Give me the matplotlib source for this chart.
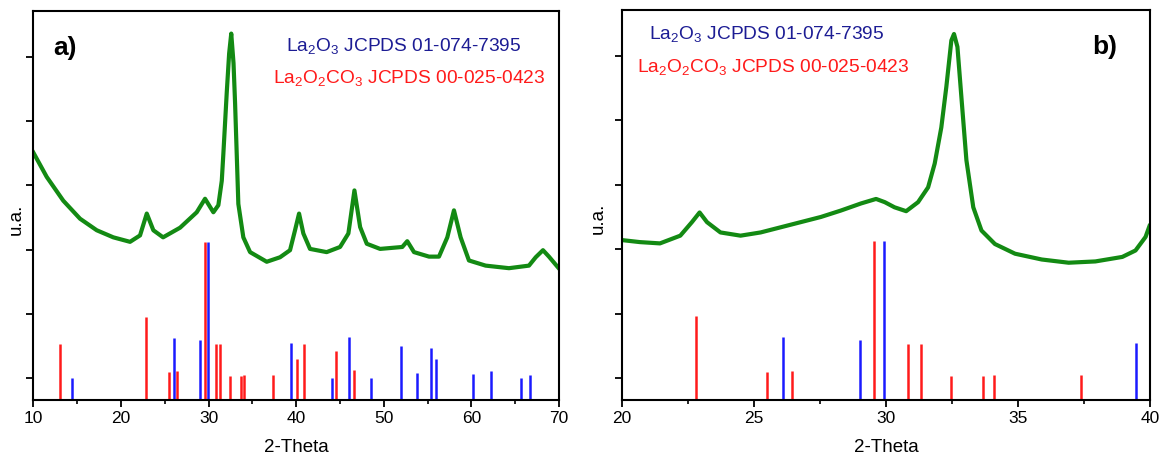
import matplotlib.pyplot as plt
from matplotlib.ticker import MultipleLocator, NullFormatter

plt.rcParams["font.family"] = ["Liberation Sans", "DejaVu Sans"]
plt.rcParams["mathtext.fontset"] = "custom"
plt.rcParams["mathtext.rm"] = "Liberation Sans"
plt.rcParams["mathtext.it"] = "Liberation Sans"

# reference sticks (2-theta, relative height)
la2o3_pos = [14.39, 26.10, 29.02, 29.93, 39.45, 44.13, 46.05, 48.52, 51.98,
             53.78, 55.35, 55.94, 60.14, 62.22, 65.71, 66.69]
la2o3_h = [0.005, 0.63, 0.59, 2.12, 0.545, 0.005, 0.637, 0.005, 0.497,
           0.073, 0.466, 0.30, 0.062, 0.109, 0.005, 0.052]
carb_pos = [13.05, 22.82, 25.49, 26.42, 29.56, 30.82, 31.33, 32.44, 33.66,
            34.09, 37.37, 40.09, 40.95, 44.52, 46.56]
carb_h = [0.534, 0.958, 0.095, 0.114, 2.12, 0.535, 0.535, 0.028, 0.028,
          0.052, 0.052, 0.30, 0.534, 0.425, 0.13]

# measured pattern, panel a (10-70)
a_x = [10.0, 11.53, 13.42, 15.33, 17.24, 19.13, 21.04, 22.18, 22.95, 23.70,
       24.81, 26.75, 28.65, 29.60, 30.55, 31.12, 31.51, 31.69, 32.08, 32.35,
       32.59, 32.85, 33.03, 33.40, 33.97, 34.74, 36.64, 38.16, 39.30, 39.87,
       40.33, 40.82, 41.58, 43.48, 45.01, 45.96, 46.65, 47.30, 48.06, 49.58,
       52.11, 52.68, 53.45, 55.16, 56.30, 57.25, 58.01, 58.77, 59.72, 61.62,
       64.29, 66.57, 67.34, 68.17, 68.85, 69.9]
a_y = [3.51, 3.13, 2.76, 2.48, 2.30, 2.19, 2.12, 2.22, 2.56, 2.30,
       2.19, 2.34, 2.58, 2.79, 2.58, 2.69, 3.07, 3.49, 4.45, 5.05,
       5.36, 4.90, 4.27, 2.71, 2.19, 1.96, 1.81, 1.88, 1.99, 2.30,
       2.56, 2.25, 2.01, 1.96, 2.04, 2.25, 2.92, 2.35, 2.09, 2.01,
       2.04, 2.13, 1.96, 1.89, 1.89, 2.19, 2.61, 2.19, 1.83, 1.75,
       1.71, 1.75, 1.88, 1.99, 1.89, 1.72]

# measured pattern, panel b (20-40)
b_x = [20.03, 20.68, 21.44, 22.21, 22.65, 22.94, 23.22, 23.73, 24.49, 25.25,
       26.01, 26.77, 27.53, 28.29, 29.05, 29.62, 29.95, 30.32, 30.76, 31.21,
       31.59, 31.84, 32.09, 32.28, 32.47, 32.57, 32.70, 32.85, 33.04, 33.30,
       33.61, 34.12, 34.88, 35.89, 36.91, 37.92, 38.94, 39.44, 39.82, 39.97]
b_y = [2.14, 2.11, 2.09, 2.21, 2.42, 2.57, 2.42, 2.26, 2.21, 2.26,
       2.34, 2.42, 2.50, 2.60, 2.71, 2.78, 2.73, 2.65, 2.59, 2.73,
       2.96, 3.33, 3.89, 4.52, 5.24, 5.34, 5.14, 4.36, 3.38, 2.65,
       2.29, 2.08, 1.93, 1.84, 1.79, 1.81, 1.88, 1.98, 2.19, 2.36]

GREEN = "#138a13"
RED = "#ff1a1a"
BLUE = "#1a1aff"
YMIN, YMAX = -0.335, 5.71

fig = plt.figure(figsize=(11.69, 4.62), dpi=100)
ax_a = fig.add_axes([0.0285, 0.135, 0.4497, 0.841])
ax_b = fig.add_axes([0.532, 0.135, 0.452, 0.843])


def style_axis(ax, xlim, major, minor, label_x):
    ax.set_xlim(*xlim)
    ax.set_ylim(YMIN, YMAX)
    ax.xaxis.set_major_locator(MultipleLocator(major))
    ax.xaxis.set_minor_locator(MultipleLocator(minor))
    ax.yaxis.set_major_locator(MultipleLocator(1))
    ax.yaxis.set_major_formatter(NullFormatter())
    ax.tick_params(axis="both", which="major", direction="out", length=5,
                   width=1.3, labelsize=12.5)
    ax.tick_params(axis="x", which="minor", direction="out", length=3, width=1.2)
    for s in ax.spines.values():
        s.set_linewidth(1.5)
    ax.set_xlabel("2-Theta", fontsize=13.5, labelpad=9)
    ax.set_ylabel("u.a.", fontsize=13.5)
    ax.yaxis.set_label_coords(label_x, 0.465)


def draw_panel(ax, xs, ys):
    ax.plot(xs, ys, color=GREEN, linewidth=3.0, solid_joinstyle="round")
    ax.vlines(la2o3_pos, YMIN, la2o3_h, color=BLUE, linewidth=1.8)
    ax.vlines(carb_pos, YMIN, carb_h, color=RED, linewidth=1.8)


draw_panel(ax_a, a_x, a_y)
style_axis(ax_a, (10, 70), 10, 5, -0.016)
ax_a.text(0.037, 0.905, "a)", transform=ax_a.transAxes, fontsize=19,
          fontweight="bold", va="center")
ax_a.text(0.48, 0.91, r"La$_2$O$_3$ JCPDS 01-074-7395", transform=ax_a.transAxes,
          color="#1c1c94", fontsize=13.8, va="center")
ax_a.text(0.456, 0.828, r"La$_2$O$_2$CO$_3$ JCPDS 00-025-0423", transform=ax_a.transAxes,
          color=RED, fontsize=13.8, va="center")

draw_panel(ax_b, b_x, b_y)
style_axis(ax_b, (20, 40), 5, 2.5, -0.028)
ax_b.text(0.89, 0.905, "b)", transform=ax_b.transAxes, fontsize=19,
          fontweight="bold", va="center")
ax_b.text(0.052, 0.94, r"La$_2$O$_3$ JCPDS 01-074-7395", transform=ax_b.transAxes,
          color="#1c1c94", fontsize=13.8, va="center")
ax_b.text(0.028, 0.855, r"La$_2$O$_2$CO$_3$ JCPDS 00-025-0423", transform=ax_b.transAxes,
          color=RED, fontsize=13.8, va="center")

fig.savefig("out.png", dpi=100)
